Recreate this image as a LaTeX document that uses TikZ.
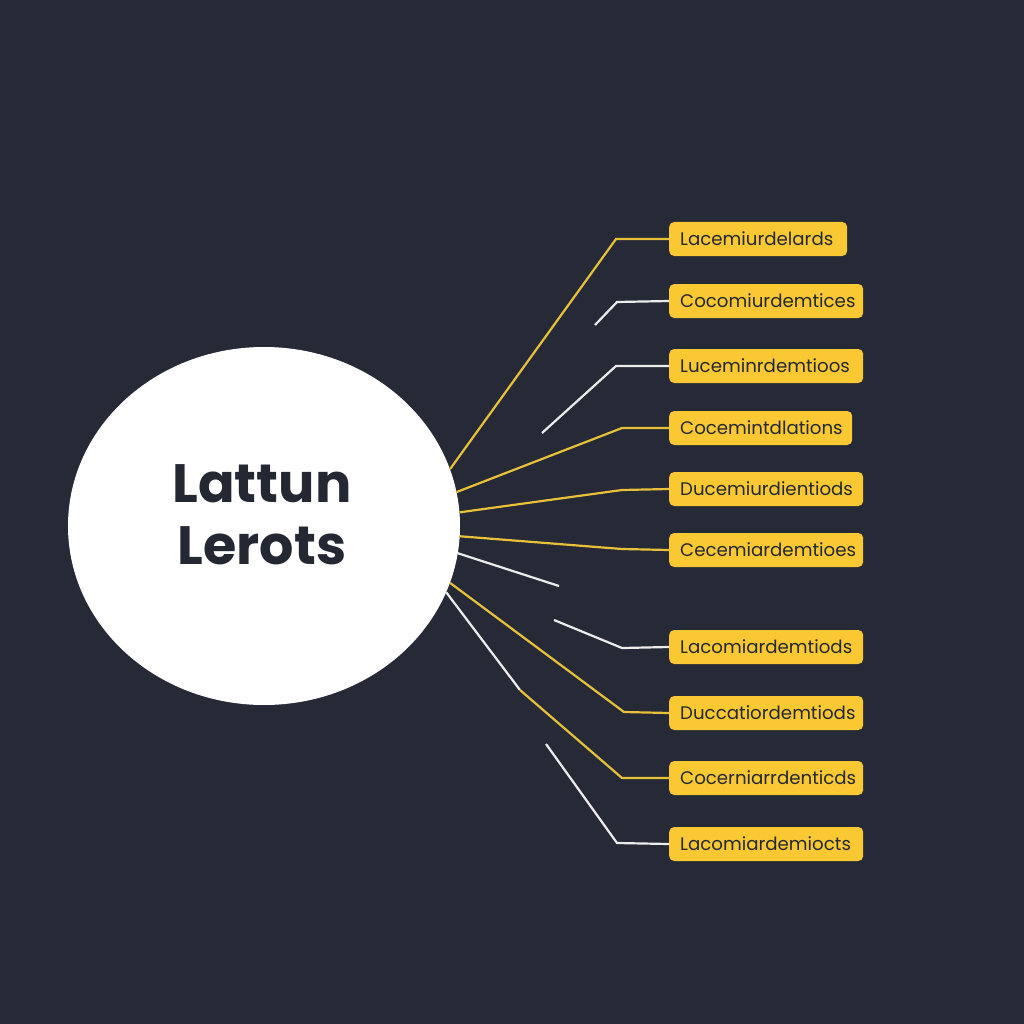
\documentclass[tikz,border=0pt]{standalone}
\usepackage{fontspec}
\setmainfont{Poppins}
\usepackage{tikz}
\usetikzlibrary{shapes.geometric}
\definecolor{bgnavy}{RGB}{38,42,54}
\definecolor{boxyellow}{RGB}{249,200,50}
\definecolor{lineyellow}{RGB}{232,192,58}
\definecolor{linewhite}{RGB}{236,236,236}
\definecolor{textdark}{RGB}{36,40,50}

\begin{document}
\begin{tikzpicture}[x=1pt, y=-1pt,
    tagbox/.style={fill=boxyellow, rounded corners=5pt, anchor=west,
        minimum height=34pt, inner xsep=11pt, inner ysep=0pt, align=left,
        text=textdark, font=\fontsize{18.2}{22}\selectfont},
    yline/.style={lineyellow, line width=2.2pt},
    wline/.style={linewhite, line width=2.2pt}]
        % 背景
        \fill[bgnavy] (0,0) rectangle (1024,1024);

        % 中心的圆
        \node[ellipse, fill=white, minimum width=392pt, minimum height=358pt,
            inner sep=0pt] (hub) at (264,526) {};
        \node[textdark, align=center, font=\fontsize{54}{62}\selectfont\bfseries]
            (title) at (262,515) {Lattun\\Lerots};

        % 右边的标签
        \foreach \i/\y/\w/\t in {1/239/156/Lacemiurdelards, 2/301/172/Cocomiurdemtices,
                3/366/172/Luceminrdemtioos, 4/428/161/Cocemintdlations,
                5/489/172/Ducemiurdientiods, 6/550/172/Cecemiardemtioes,
                7/647/172/Lacomiardemtiods, 8/713/172/Duccatiordemtiods,
                9/778/172/Cocerniarrdenticds, 10/844/172/Lacomiardemiocts}
            \node[tagbox, text width=\w pt] (lbl\i) at (669,\y) {\t};

        % 连线
        \coordinate (w2) at (595,325);
        \coordinate (w3) at (542,433);
        \coordinate (w6) at (559,586);
        \coordinate (w7) at (554,620);
        \coordinate (w10) at (546,744);
        \coordinate (bend9) at (520,690);

        \draw[yline] (hub.17.6) -- (616,239) -- (lbl1.west);
        \draw[wline] (w2) -- (617,302) -- (lbl2.west);
        \draw[wline] (w3) -- (616,366) -- (lbl3.west);
        \draw[yline] (hub.10.6) -- (622,428) -- (lbl4.west);
        \draw[yline] (hub.4) -- (622,490) -- (lbl5.west);
        \draw[yline] (hub.-3.5) -- (622,549) -- (lbl6.west);
        \draw[wline] (hub.-8.5) -- (w6);
        \draw[wline] (w7) -- (622,648) -- (lbl7.west);
        \draw[yline] (hub.-17.2) -- (624,712) -- (lbl8.west);
        \draw[wline] (hub.-20) -- (bend9);
        \draw[yline] (bend9) -- (622,778) -- (lbl9.west);
        \draw[wline] (w10) -- (617,843) -- (lbl10.west);
\end{tikzpicture}
\end{document}
